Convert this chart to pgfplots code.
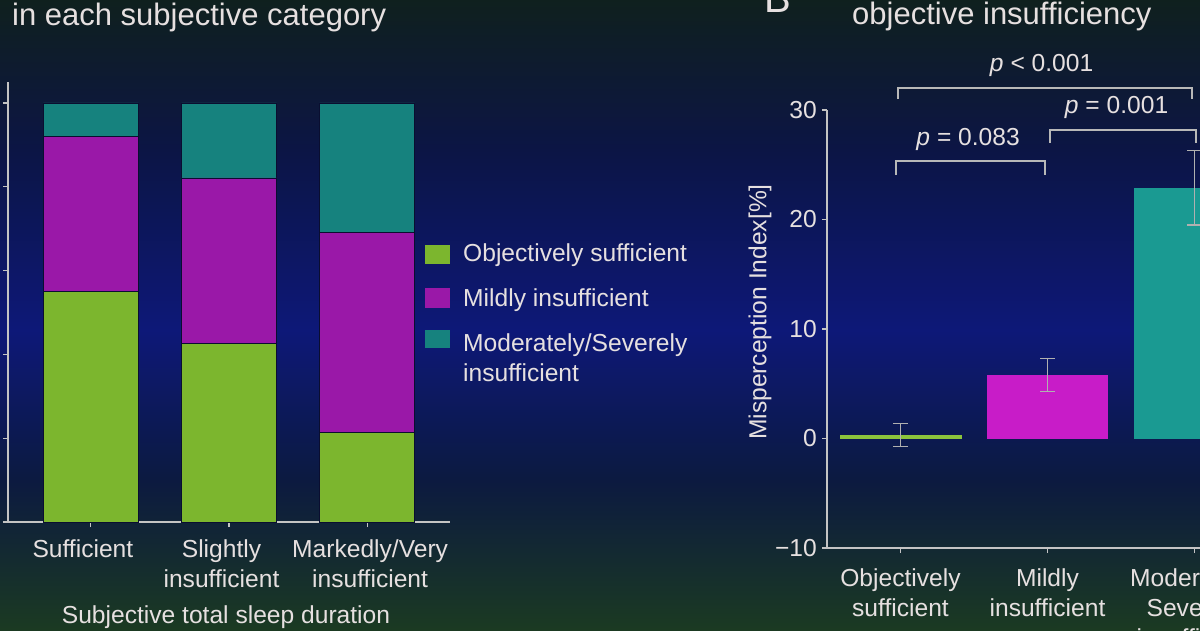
\documentclass[border=0pt]{standalone}
\usepackage{pgfplots}
\pgfplotsset{compat=1.18}
\usepackage{fontspec}
\setmainfont{Liberation Sans}
\definecolor{txt}{HTML}{E6E0E0}
\definecolor{axc}{HTML}{C4C4C4}
\definecolor{brk}{HTML}{B8B8B8}
\definecolor{errc}{HTML}{B0B0B0}
\definecolor{gL}{HTML}{7CB62E}
\definecolor{mL}{HTML}{9A18A8}
\definecolor{tL}{HTML}{16827E}
\definecolor{gR}{HTML}{8CC43C}
\definecolor{mR}{HTML}{C81CC8}
\definecolor{tR}{HTML}{1A9A92}
\definecolor{bardark}{HTML}{0A0E30}
\definecolor{bgA}{HTML}{0F201E}
\definecolor{bgB}{HTML}{0C1545}
\definecolor{bgC}{HTML}{0D1878}
\definecolor{bgD}{HTML}{0C1A40}
\definecolor{bgE}{HTML}{1B3A22}
\newcommand\lbl{\fontsize{24.6}{30}\selectfont}
\newcommand\ttl{\fontsize{31}{36}\selectfont}
\begin{document}
\begin{tikzpicture}[x=1pt,y=1pt]
\path[use as bounding box] (0,0) rectangle (1200,630);
\clip (0,0) rectangle (1200,630);
% background
\shade[top color=bgA, bottom color=bgB] (0,479.5) rectangle (1200,630);
\shade[top color=bgB, bottom color=bgC] (0,299.5) rectangle (1200,480);
\shade[top color=bgC, bottom color=bgD] (0,149.5) rectangle (1200,300);
\shade[top color=bgD, bottom color=bgE] (0,0) rectangle (1200,150);

% ---------- Panel A ----------
\begin{axis}[
  at={(8pt,108pt)}, anchor=south west, scale only axis,
  width=442pt, height=440pt,
  xmin=-0.6, xmax=2.6, ymin=0, ymax=105,
  axis lines*=left,
  axis line style={draw=axc, line width=1.5pt},
  ybar stacked, bar width=95pt,
  xtick={0,1,2},
  xticklabels={{Sufficient\hspace*{16pt}},
               {Slightly\hspace*{15pt}\\insufficient\hspace*{15pt}},
               {\hspace*{6pt}Markedly/Very\\\hspace*{6pt}insufficient}},
  ytick={0,20,40,60,80,100}, yticklabels={},
  tick align=outside, major tick length=5pt,
  tick style={draw=axc, line width=1.2pt},
  xticklabel style={font=\lbl, text=txt, align=center, inner sep=0pt, anchor=north, yshift=-12pt},
  clip=false,
]
\addplot[fill=gL, draw=bardark, line width=0.8pt] coordinates {(0,55.0) (1,42.7) (2,21.3)};
\addplot[fill=mL, draw=bardark, line width=0.8pt] coordinates {(0,36.9) (1,39.4) (2,47.9)};
\addplot[fill=tL, draw=bardark, line width=0.8pt] coordinates {(0,8.1) (1,17.9) (2,30.8)};
\end{axis}

% ---------- Panel B ----------
\begin{axis}[
  at={(827pt,82pt)}, anchor=south west, scale only axis,
  width=441pt, height=438pt,
  xmin=-0.5, xmax=2.5, ymin=-10, ymax=30,
  axis lines*=left,
  axis line style={draw=axc, line width=1.5pt},
  ybar, bar width=121pt, bar shift=0pt,
  xtick={0,1,2},
  xticklabels={{Objectively\\sufficient}, {Mildly\\insufficient}, {Moderately/\\Severely\\insufficient}},
  ytick={-10,0,10,20,30}, yticklabels={−10,0,10,20,30},
  tick align=outside, major tick length=5pt,
  tick style={draw=axc, line width=1.2pt},
  xticklabel style={font=\lbl, text=txt, align=center, inner sep=0pt, anchor=north, yshift=-15pt},
  yticklabel style={font=\lbl, text=txt, inner sep=0pt, anchor=east, xshift=-5pt},
  clip=false,
]
\addplot[fill=gR, draw=gR, line width=0.5pt,
  error bars/.cd, y dir=both, y explicit,
  error bar style={draw=errc, line width=1.4pt},
  error mark options={draw=errc, line width=1.4pt, mark size=7.5pt, rotate=90}]
  coordinates {(0,0.3) +- (0,1.05)};
\addplot[fill=mR, draw=none,
  error bars/.cd, y dir=both, y explicit,
  error bar style={draw=errc, line width=1.4pt},
  error mark options={draw=errc, line width=1.4pt, mark size=7.5pt, rotate=90}]
  coordinates {(1,5.8) +- (0,1.5)};
\addplot[fill=tR, draw=none,
  error bars/.cd, y dir=both, y explicit,
  error bar style={draw=errc, line width=1.4pt},
  error mark options={draw=errc, line width=1.4pt, mark size=7.5pt, rotate=90}]
  coordinates {(2,22.9) +- (0,3.4)};
% significance brackets
\draw[brk, line width=2pt] (axis cs:-0.02,31.0) -- (axis cs:-0.02,32.05) -- (axis cs:1.986,32.05) -- (axis cs:1.986,31.0);
\draw[brk, line width=2pt] (axis cs:1.02,27.0) -- (axis cs:1.02,28.2) -- (axis cs:2.01,28.2) -- (axis cs:2.01,27.0);
\draw[brk, line width=2pt] (axis cs:-0.03,24.1) -- (axis cs:-0.03,25.3) -- (axis cs:0.986,25.3) -- (axis cs:0.986,24.1);
\node[font=\lbl, text=txt] at (axis cs:0.96,34.06) {\textit{p} < 0.001};
\node[font=\lbl, text=txt] at (axis cs:1.47,30.2) {\textit{p} = 0.001};
\node[font=\lbl, text=txt] at (axis cs:0.46,27.3) {\textit{p} = 0.083};
\end{axis}

% titles
\node[font=\ttl, text=txt, anchor=base west, inner sep=0pt] at (12,604) {in each subjective category};
\node[font=\ttl, text=txt, anchor=base west, inner sep=0pt] at (852,605) {objective insufficiency};
\node[font=\fontsize{40}{44}\selectfont, text=txt, anchor=base west, inner sep=0pt] at (764,617) {B};

% axis titles
\node[font=\lbl, text=txt, anchor=base, inner sep=0pt] at (226,7) {Subjective total sleep duration};
\node[font=\lbl, text=txt, rotate=90, inner sep=0pt] at (760,318) {Misperception Index[\%]};

% legend
\fill[gL] (425,366) rectangle (450,385);
\fill[mL] (425,322) rectangle (450,342);
\fill[tL] (425,282) rectangle (450,300);
\node[font=\lbl, text=txt, anchor=base west, inner sep=0pt] at (463,368) {Objectively sufficient};
\node[font=\lbl, text=txt, anchor=base west, inner sep=0pt] at (463,323) {Mildly insufficient};
\node[font=\lbl, text=txt, anchor=base west, inner sep=0pt] at (463,278) {Moderately/Severely};
\node[font=\lbl, text=txt, anchor=base west, inner sep=0pt] at (463,248) {insufficient};
\end{tikzpicture}
\end{document}
